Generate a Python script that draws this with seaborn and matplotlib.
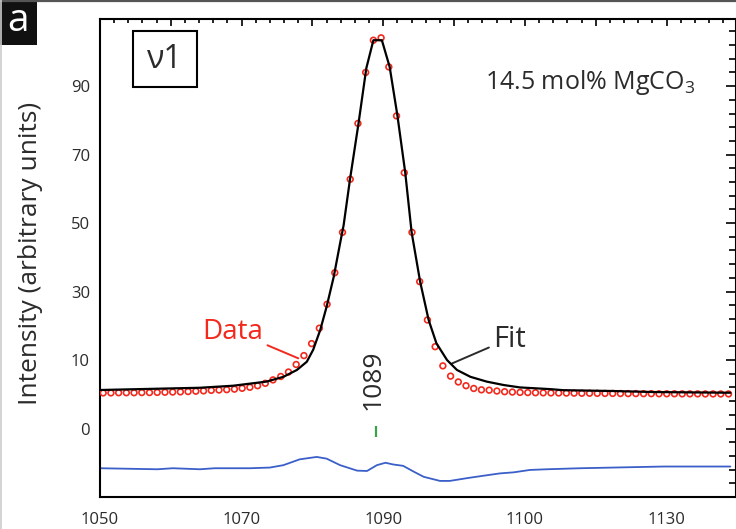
import numpy as np
import pandas as pd
import matplotlib
matplotlib.use("Agg")
import matplotlib.pyplot as plt
from matplotlib.patches import Rectangle
from matplotlib.lines import Line2D
from matplotlib.ticker import FixedLocator, FixedFormatter
import seaborn as sns

# ---- measured spectrum (wavenumber, intensity) ----
data_x = [1050.45, 1051.54, 1052.63, 1053.72, 1054.81, 1055.90, 1056.99, 1058.08,
          1059.17, 1060.26, 1061.35, 1062.44, 1063.53, 1064.62, 1065.71, 1066.80,
          1067.89, 1068.98, 1070.07, 1071.16, 1072.25, 1073.34, 1074.43, 1075.52,
          1076.61, 1077.70, 1078.79, 1079.88, 1080.97, 1082.06, 1083.15, 1084.24,
          1085.33, 1086.42, 1087.51, 1088.60, 1089.69, 1090.78, 1091.87, 1092.96,
          1094.05, 1095.14, 1096.23, 1097.32, 1098.41, 1099.50, 1100.59, 1101.68,
          1102.77, 1103.86, 1104.95, 1106.04, 1107.13, 1108.22, 1109.31, 1110.40,
          1111.49, 1112.58, 1113.67, 1114.76, 1115.85, 1116.94, 1118.03, 1119.12,
          1120.21, 1121.30, 1122.39, 1123.48, 1124.57, 1125.66, 1126.75, 1127.84,
          1128.93, 1130.02, 1131.11, 1132.20, 1133.29, 1134.38, 1135.47, 1136.56,
          1137.65, 1138.74]
data_y = [0.40, 0.40, 0.45, 0.45, 0.45, 0.50, 0.50, 0.55, 0.60, 0.65, 0.70, 0.80,
          0.90, 1.00, 1.15, 1.25, 1.35, 1.50, 1.75, 2.05, 2.5, 3.2, 4.2, 5.2,
          6.5, 8.7, 11.3, 14.8, 19.3, 26.3, 35.5, 47.3, 62.8, 79.1, 94.0, 103.4,
          104.1, 95.6, 81.3, 64.7, 47.3, 32.9, 21.7, 13.9, 8.3, 5.3, 3.6, 2.5,
          1.7, 1.3, 1.2, 0.95, 0.75, 0.65, 0.55, 0.50, 0.45, 0.42, 0.40, 0.38,
          0.35, 0.33, 0.30, 0.30, 0.28, 0.25, 0.25, 0.22, 0.20, 0.20, 0.18, 0.18,
          0.15, 0.15, 0.15, 0.12, 0.12, 0.12, 0.10, 0.10, 0.10, 0.10]

# ---- fitted profile ----
fit_x = [1050.0, 1064.1, 1068.8, 1073.5, 1075.9, 1077.8, 1079.2, 1080.1, 1081.1,
         1082.0, 1083.0, 1083.9, 1084.4, 1085.3, 1086.5, 1087.6, 1088.6, 1089.8,
         1090.9, 1092.0, 1093.1, 1094.0, 1095.2, 1096.4, 1097.5, 1099.0, 1100.4,
         1102.3, 1104.6, 1107.0, 1109.3, 1113.6, 1115.4, 1122.5, 1128.2, 1139.0]
fit_y = [1.25, 1.9, 2.5, 3.7, 5.1, 7.1, 9.5, 13.0, 18.8,
         25.6, 34.3, 44.1, 49.4, 62.8, 79.1, 95.2, 103.4, 103.4,
         95.6, 81.3, 64.7, 47.3, 32.9, 21.7, 14.9, 10.0, 7.1,
         5.1, 3.7, 2.7, 2.0, 1.5, 1.2, 0.95, 0.65, 0.45]

# ---- residual (offset below the spectrum) ----
resid_x = [1050.0, 1058.1, 1060.3, 1064.1, 1066.2, 1071.2, 1074.0, 1075.9, 1078.2,
           1080.6, 1082.0, 1083.9, 1086.3, 1087.7, 1089.1, 1090.3, 1091.4, 1092.8,
           1094.3, 1095.7, 1098.0, 1099.4, 1101.8, 1104.1, 1106.5, 1108.4, 1110.7,
           1113.1, 1117.8, 1122.5, 1129.6, 1139.0]
resid_y = [-21.6, -21.9, -21.6, -21.9, -21.6, -21.6, -21.4, -20.7, -19.0,
           -18.3, -18.8, -20.7, -22.3, -22.4, -20.7, -20.0, -20.5, -20.9,
           -22.6, -24.1, -25.3, -25.3, -24.5, -23.8, -23.1, -22.8, -22.1,
           -21.9, -21.6, -21.4, -21.1, -21.1]

peak_position = 1089
peak_label = "1089"

y_tick_values = [90, 70, 50, 30, 10, -10]
y_tick_labels = ["90", "70", "50", "30", "10", "0"]
x_tick_values = [1050, 1060, 1070, 1080, 1090, 1100, 1110, 1120, 1130]
x_tick_labels = ["1050", "", "1070", "", "1090", "", "1100", "", "1130"]

RED = "#f2291c"
BLUE = "#3b5fc8"
GREEN = "#3aa24a"
DARK = "#2b2b2b"

sns.set_theme(style="white")
plt.rcParams["font.family"] = ["Open Sans", "DejaVu Sans"]
plt.rcParams["mathtext.default"] = "regular"

fig = plt.figure(figsize=(7.36, 5.29), dpi=100)
ax = fig.add_axes([100 / 736, 32 / 529, 636 / 736, 478 / 529])

df_data = pd.DataFrame({"wn": data_x, "I": data_y})
df_fit = pd.DataFrame({"wn": fit_x, "I": fit_y})
df_res = pd.DataFrame({"wn": resid_x, "I": resid_y})

sns.lineplot(data=df_res, x="wn", y="I", ax=ax, color=BLUE, linewidth=1.3,
             sort=False, zorder=2)
sns.scatterplot(data=df_data, x="wn", y="I", ax=ax, marker="o", s=17,
                facecolor="none", edgecolor=RED, linewidth=1.2, zorder=3)
sns.lineplot(data=df_fit, x="wn", y="I", ax=ax, color="black", linewidth=1.6,
             sort=False, zorder=4)

# peak position marker
ax.vlines(peak_position, -12.4, -9.4, color=GREEN, linewidth=1.6)
ax.text(peak_position - 0.5, 4.2, peak_label, rotation=90, ha="center",
        va="center", fontsize=19, color=DARK)

ax.set_xlim(1050, 1139.8)
ax.set_ylim(-30.0, 109.6)

# ticks
ax.xaxis.set_major_locator(FixedLocator(x_tick_values))
ax.xaxis.set_major_formatter(FixedFormatter(x_tick_labels))
ax.xaxis.set_minor_locator(FixedLocator(np.arange(1050, 1140, 2)))
ax.yaxis.set_major_locator(FixedLocator(y_tick_values))
ax.yaxis.set_major_formatter(FixedFormatter(y_tick_labels))
ax.yaxis.set_minor_locator(FixedLocator(np.arange(-30, 110, 4)))

ax.tick_params(which="both", direction="in", top=True, right=True,
               color="black", width=1.2, labelsize=12, labelcolor=DARK)
ax.tick_params(axis="y", which="major", length=7.2, pad=7.2)
ax.tick_params(axis="y", which="minor", length=5)
ax.tick_params(axis="x", which="major", length=5, pad=10.5)
ax.tick_params(axis="x", which="minor", length=3)

for sp in ax.spines.values():
    sp.set_color("black")
    sp.set_linewidth(1.5)

ax.set_xlabel("")
ax.set_ylabel("Intensity (arbitrary units)", fontsize=19, color=DARK)
ax.yaxis.set_label_coords(-0.089, 0.51)

# labels with leader lines
ax.annotate("Data", xy=(1078.0, 10.5), xytext=(1073.0, 16.1), textcoords="data",
            ha="right", va="baseline", fontsize=20, color=RED,
            arrowprops=dict(arrowstyle="-", color=RED, lw=1.4, relpos=(1, 0.1),
                            shrinkA=1, shrinkB=0))
ax.annotate("Fit", xy=(1099.7, 9.0), xytext=(1105.55, 13.9), textcoords="data",
            ha="left", va="baseline", fontsize=21, color=DARK,
            arrowprops=dict(arrowstyle="-", color=DARK, lw=1.4, relpos=(0, 0.28),
                            shrinkA=1, shrinkB=0))

# band label box
ax.add_patch(Rectangle((33 / 636, 410 / 478), 64 / 636, 56 / 478,
                       transform=ax.transAxes, fill=False, edgecolor="black",
                       linewidth=1.5, zorder=5))
ax.text(65 / 636, 438 / 478, "ν1", transform=ax.transAxes, ha="center",
        va="center", fontsize=23, color=DARK)

ax.text(385 / 636, 408 / 478, "14.5 mol% MgCO$_3$", transform=ax.transAxes,
        ha="left", va="baseline", fontsize=18, color=DARK)

# panel frame and panel letter
fig.add_artist(Line2D([0, 1], [1 - 1 / 529, 1 - 1 / 529], transform=fig.transFigure,
                      color="#555555", linewidth=1.6))
fig.add_artist(Line2D([1 / 736, 1 / 736], [0, 1], transform=fig.transFigure,
                      color="#cccccc", linewidth=1.2))
fig.add_artist(Rectangle((0, 1 - 45 / 529), 37 / 736, 45 / 529,
                         transform=fig.transFigure, facecolor="#111111",
                         edgecolor="none"))
fig.text(18 / 736, 1 - 21 / 529, "a", color="white", fontsize=28,
         ha="center", va="center")

fig.savefig("out.png", dpi=100)
